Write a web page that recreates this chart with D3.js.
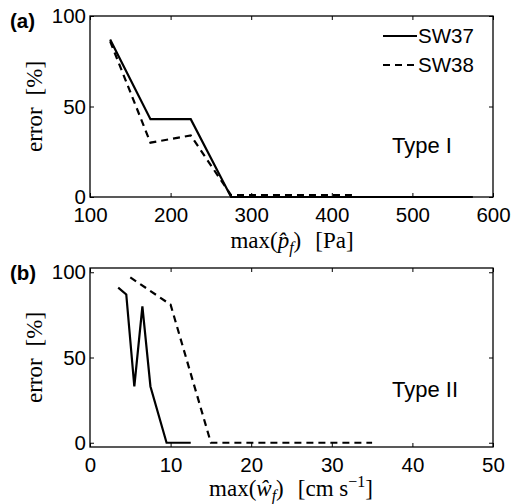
<!DOCTYPE html>
<html>
<head>
<meta charset="utf-8">
<script src="https://cdn.jsdelivr.net/npm/d3@7"></script>
<style>
  body { margin: 0; background: #fff; }
  .tick text { font-family: "Liberation Sans", Arial, sans-serif; font-size: 20.5px; fill: #000; }
  .tick line { stroke: #000; }
  .lbl { font-family: "Liberation Serif", "Times New Roman", serif; font-size: 23px; fill: #000; }
  .sans { font-family: "Liberation Sans", Arial, sans-serif; font-size: 20.5px; fill: #000; }
</style>
</head>
<body>
<div id="chart"></div>
<script>
// panel (a): error vs max pressure
var aX37 = [125, 175, 225, 275, 325, 375, 425, 475, 525, 575];
var aY37 = [87, 43, 43, 0, 0, 0, 0, 0, 0, 0];
var aX38 = [125, 175, 225, 275, 325, 375, 425];
var aY38 = [86, 30, 34, 1, 1, 1, 1];
var aXTicks = [100, 200, 300, 400, 500, 600];

// panel (b): error vs max velocity
var bX37 = [3.5, 4.5, 5.5, 6.5, 7.5, 9.5, 12.5];
var bY37 = [91, 87, 33, 80, 33, 0, 0];
var bX38 = [5, 10, 15, 20, 25, 30, 35];
var bY38 = [97, 81, 0, 0, 0, 0, 0];
var bXTicks = [0, 10, 20, 30, 40, 50];

var yTicks = [0, 50, 100];
var seriesNames = ["SW37", "SW38"];

var W = 512, H = 504;
var svg = d3.select("#chart").append("svg")
  .attr("width", W).attr("height", H);

var left = 90, right = 493;

function zip(xs, ys) {
  return xs.map(function(d, i) { return [d, ys[i]]; });
}

function panel(opt) {
  var x = d3.scaleLinear().domain(opt.xdom).range([left, right]);
  var y = d3.scaleLinear().domain(opt.ydom).range([opt.bottom, opt.top]);
  var g = svg.append("g");

  // bottom axis with labels
  g.append("g")
    .attr("transform", "translate(0," + opt.bottom + ")")
    .call(d3.axisBottom(x).tickValues(opt.xticks).tickSizeInner(-4).tickSizeOuter(0).tickPadding(10))
    .call(function(s) { s.select(".domain").remove(); });
  // top axis, ticks only
  g.append("g")
    .attr("transform", "translate(0," + opt.top + ")")
    .call(d3.axisTop(x).tickValues(opt.xticks).tickSizeInner(-4).tickSizeOuter(0).tickFormat(""))
    .call(function(s) { s.select(".domain").remove(); });
  // left axis
  g.append("g")
    .attr("transform", "translate(" + left + ",0)")
    .call(d3.axisLeft(y).tickValues(yTicks).tickSizeInner(-4).tickSizeOuter(0).tickPadding(4))
    .call(function(s) { s.select(".domain").remove(); });
  // right axis
  g.append("g")
    .attr("transform", "translate(" + right + ",0)")
    .call(d3.axisRight(y).tickValues(yTicks).tickSizeInner(-4).tickSizeOuter(0).tickFormat(""))
    .call(function(s) { s.select(".domain").remove(); });

  // frame
  g.append("rect")
    .attr("x", left).attr("y", opt.top)
    .attr("width", right - left).attr("height", opt.bottom - opt.top)
    .attr("fill", "none").attr("stroke", "#000").attr("stroke-width", 1.3);

  var line = d3.line()
    .x(function(d) { return x(d[0]); })
    .y(function(d) { return y(d[1]); });

  g.append("path")
    .datum(zip(opt.x37, opt.y37))
    .attr("d", line)
    .attr("fill", "none").attr("stroke", "#000").attr("stroke-width", 2.2);
  g.append("path")
    .datum(zip(opt.x38, opt.y38))
    .attr("d", line)
    .attr("fill", "none").attr("stroke", "#000").attr("stroke-width", 2.2)
    .attr("stroke-dasharray", "7,5");

  // panel letter
  g.append("text").attr("class", "sans")
    .attr("x", 10).attr("y", opt.top + 12)
    .style("font-weight", "bold")
    .text(opt.letter);

  // y label
  var yl = g.append("text").attr("class", "lbl")
    .attr("transform", "translate(42," + ((opt.top + opt.bottom) / 2) + ") rotate(-90)")
    .attr("text-anchor", "middle");
  yl.append("tspan").text("error");
  yl.append("tspan").attr("dx", 12).text("[%]");

  // type text
  g.append("text").attr("class", "sans")
    .attr("x", 392).attr("y", opt.typeY)
    .style("font-size", "22px")
    .text(opt.typeText);

  return g;
}

var ga = panel({
  xdom: [100, 600], ydom: [0, 100], top: 16, bottom: 197,
  xticks: aXTicks, x37: aX37, y37: aY37, x38: aX38, y38: aY38,
  letter: "(a)", typeText: "Type I", typeY: 153
});

var gb = panel({
  xdom: [0, 50], ydom: [-2.5, 102.5], top: 268, bottom: 447,
  xticks: bXTicks, x37: bX37, y37: bY37, x38: bX38, y38: bY38,
  letter: "(b)", typeText: "Type II", typeY: 397
});

// x labels
var xa = svg.append("text").attr("class", "lbl")
  .attr("x", 292).attr("y", 248).attr("text-anchor", "middle");
xa.append("tspan").text("max(");
xa.append("tspan").style("font-style", "italic").text("p\u0302");
xa.append("tspan").style("font-style", "italic").style("font-size", "16px").attr("dy", 5).text("f");
xa.append("tspan").attr("dy", -5).text(")");
xa.append("tspan").attr("dx", 14).text("[Pa]");

var xb = svg.append("text").attr("class", "lbl")
  .attr("x", 291).attr("y", 496).attr("text-anchor", "middle");
xb.append("tspan").text("max(");
xb.append("tspan").style("font-style", "italic").text("\u0175");
xb.append("tspan").style("font-style", "italic").style("font-size", "16px").attr("dy", 5).text("f");
xb.append("tspan").attr("dy", -5).text(")");
xb.append("tspan").attr("dx", 14).text("[cm s");
xb.append("tspan").style("font-size", "16px").attr("dy", -9).text("\u22121");
xb.append("tspan").attr("dy", 9).text("]");

// legend in panel (a)
var legY = [36, 65];
var leg = svg.append("g");
seriesNames.forEach(function(name, i) {
  leg.append("line")
    .attr("x1", 383).attr("x2", 417)
    .attr("y1", legY[i]).attr("y2", legY[i])
    .attr("stroke", "#000").attr("stroke-width", 2.2)
    .attr("stroke-dasharray", i === 1 ? "7,5" : null);
  leg.append("text").attr("class", "sans")
    .attr("x", 418).attr("y", legY[i] + 7)
    .text(name);
});
</script>
</body>
</html>
